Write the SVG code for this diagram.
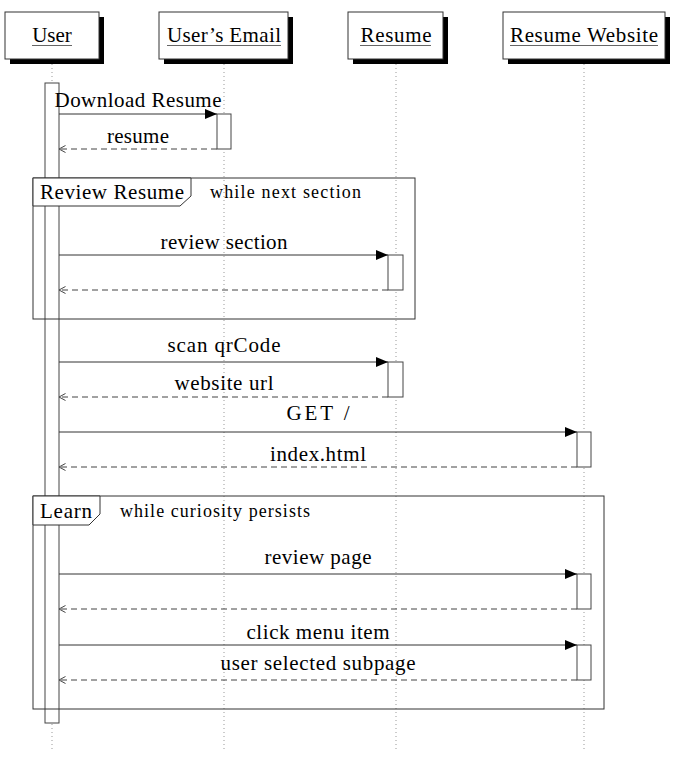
<svg xmlns="http://www.w3.org/2000/svg" width="678" height="760" viewBox="0 0 678 760">
<style>
text{font-family:"Liberation Serif","DejaVu Serif","Times New Roman",serif;fill:#000}
.hd{font-size:21px;text-anchor:middle}
.lb{font-size:21px;text-anchor:middle}
.ft{font-size:21px}
.cond{font-size:18px}
.box{fill:#fff;stroke:#333;stroke-width:1}
.sh{fill:#000}
.ul{stroke:#666;stroke-width:1}
.life{stroke:#999;stroke-width:1;stroke-dasharray:1,3}
.act{fill:#fff;stroke:#444;stroke-width:1}
.msg{stroke:#333;stroke-width:1;fill:none}
.ret{stroke:#444;stroke-width:1;fill:none;stroke-dasharray:6,4}
.frame{fill:none;stroke:#333;stroke-width:1}
.tab{fill:#fff;stroke:#333;stroke-width:1}
</style>
<defs>
<marker id="ah" viewBox="0 0 12 10" refX="12" refY="5" markerWidth="12" markerHeight="10" markerUnits="userSpaceOnUse" orient="auto"><path d="M0,0 L12,5 L0,10 Z" fill="#000"/></marker>
<marker id="oh" viewBox="0 0 8 10" refX="7.5" refY="5" markerWidth="8" markerHeight="10" markerUnits="userSpaceOnUse" orient="auto"><path d="M1,1.5 L7.5,5 L1,8.5" fill="none" stroke="#444" stroke-width="1"/></marker>
</defs>
<rect width="678" height="760" fill="#fff"/>

<g id="lifelines">
<line class="life" x1="52" y1="64" x2="52" y2="750"/>
<line class="life" x1="224" y1="64" x2="224" y2="750"/>
<line class="life" x1="396" y1="64" x2="396" y2="750"/>
<line class="life" x1="584" y1="64" x2="584" y2="750"/>
</g>

<g id="user">
<rect class="sh" x="10" y="17" width="94" height="47"/>
<rect class="box" x="5" y="12" width="94" height="47"/>
<text class="hd" x="52" y="42">User</text>
<line class="ul" x1="32" y1="45.5" x2="72" y2="45.5"/>
<rect class="act" x="45" y="83" width="14" height="640"/>
</g>

<g id="users-email">
<rect class="sh" x="164" y="17" width="129" height="47"/>
<rect class="box" x="159" y="12" width="129" height="47"/>
<text class="hd" x="224" y="42" textLength="114">User’s Email</text>
<line class="ul" x1="167" y1="45.5" x2="281" y2="45.5"/>
<rect class="act" x="217" y="114" width="14" height="35"/>
</g>

<g id="resume">
<rect class="sh" x="353" y="17" width="95" height="47"/>
<rect class="box" x="348" y="12" width="95" height="47"/>
<text class="hd" x="396" y="42" textLength="71">Resume</text>
<line class="ul" x1="360" y1="45.5" x2="431" y2="45.5"/>
<rect class="act" x="388" y="255" width="15" height="35"/>
<rect class="act" x="388" y="362" width="15" height="35"/>
</g>

<g id="resume-website">
<rect class="sh" x="508" y="17" width="162" height="47"/>
<rect class="box" x="503" y="12" width="162" height="47"/>
<text class="hd" x="584" y="42" textLength="148">Resume Website</text>
<line class="ul" x1="510" y1="45.5" x2="658" y2="45.5"/>
<rect class="act" x="577" y="432" width="14" height="35"/>
<rect class="act" x="577" y="574" width="14" height="35"/>
<rect class="act" x="577" y="645" width="14" height="35"/>
</g>

<g id="frame-review-resume">
<rect class="frame" x="33" y="178" width="382" height="141"/>
<path class="tab" d="M33,178 H191 V196 L180,206 H33 Z"/>
<text class="ft" x="40" y="199" textLength="144">Review Resume</text>
<text class="cond" x="210" y="198" textLength="151">while next section</text>
</g>

<g id="frame-learn">
<rect class="frame" x="33" y="496" width="571" height="213"/>
<path class="tab" d="M33,496 H100 V514 L89,525 H33 Z"/>
<text class="ft" x="40" y="518" textLength="52">Learn</text>
<text class="cond" x="120" y="517" textLength="190">while curiosity persists</text>
</g>

<g id="connectors">
<line class="msg" x1="59" y1="114" x2="217" y2="114" marker-end="url(#ah)"/>
<text class="lb" x="138" y="107" textLength="167">Download Resume</text>
<line class="ret" x1="217" y1="149" x2="59" y2="149" marker-end="url(#oh)"/>
<text class="lb" x="138" y="143" textLength="62">resume</text>

<line class="msg" x1="59" y1="255" x2="388" y2="255" marker-end="url(#ah)"/>
<text class="lb" x="224" y="249" textLength="127">review section</text>
<line class="ret" x1="388" y1="290" x2="59" y2="290" marker-end="url(#oh)"/>

<line class="msg" x1="59" y1="362" x2="388" y2="362" marker-end="url(#ah)"/>
<text class="lb" x="224" y="352" textLength="113">scan qrCode</text>
<line class="ret" x1="388" y1="397" x2="59" y2="397" marker-end="url(#oh)"/>
<text class="lb" x="224" y="390" textLength="99">website url</text>

<line class="msg" x1="59" y1="432" x2="577" y2="432" marker-end="url(#ah)"/>
<text class="lb" x="318" y="420" textLength="63">GET /</text>
<line class="ret" x1="577" y1="467" x2="59" y2="467" marker-end="url(#oh)"/>
<text class="lb" x="318" y="461" textLength="96">index.html</text>

<line class="msg" x1="59" y1="574" x2="577" y2="574" marker-end="url(#ah)"/>
<text class="lb" x="318" y="564" textLength="107">review page</text>
<line class="ret" x1="577" y1="609" x2="59" y2="609" marker-end="url(#oh)"/>

<line class="msg" x1="59" y1="645" x2="577" y2="645" marker-end="url(#ah)"/>
<text class="lb" x="318" y="639" textLength="143">click menu item</text>
<line class="ret" x1="577" y1="680" x2="59" y2="680" marker-end="url(#oh)"/>
<text class="lb" x="318" y="670" textLength="195">user selected subpage</text>
</g>
</svg>
